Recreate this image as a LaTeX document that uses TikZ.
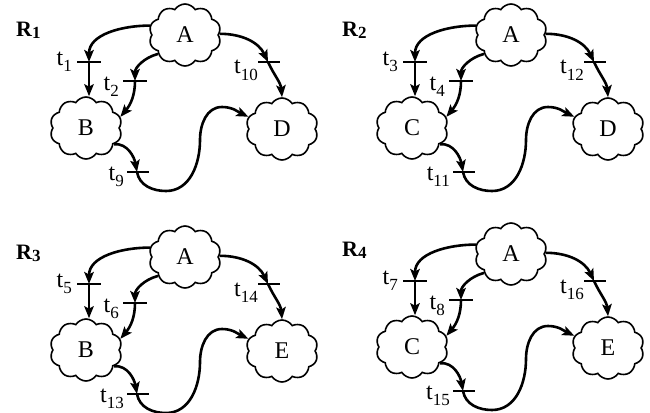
\documentclass[tikz,border=0pt]{standalone}
\usepackage{fontspec}
\setmainfont{Liberation Serif}
\usetikzlibrary{shapes.symbols,arrows.meta}

\newcommand\tsub[1]{\raisebox{-6pt}{\fontsize{17}{17}\selectfont #1}}
\newcommand\rsub[1]{\raisebox{-2pt}{\fontsize{17}{17}\selectfont\bfseries #1}}

\tikzset{
 blob/.style={cloud, draw, cloud puffs=10, cloud puff arc=115, aspect=1.25,
   line width=1.6pt, minimum width=72pt, minimum height=62pt, inner sep=0pt,
   font=\fontsize{24}{26}\selectfont},
 arc/.style={line width=2.6pt, -{Stealth[length=12pt,width=9.5pt,inset=2.5pt]}},
 bar/.style={line width=1.8pt},
 tlab/.style={anchor=base east, inner sep=0pt, font=\fontsize{24}{26}\selectfont},
 rlab/.style={anchor=base west, inner sep=0pt, font=\fontsize{22}{24}\selectfont\bfseries},
}

% #1 prefix, #2 shift, #3 R number, #4 left letter, #5 right letter,
% #6 t upper-left, #7 t inner, #8 t bottom, #9 t right
\newcommand\drawpanel[9]{%
\begin{scope}[shift={(#2)}]
 \node[rlab] (#1R) at (16,-37) {R\rsub{#3}};
 \node[blob] (#1A) at (185,-35) {A};
 \node[blob] (#1B) at (86,-128) {#4};
 \node[blob] (#1D) at (282,-129) {#5};
 \coordinate (#1ta) at (89,-62);
 \coordinate (#1tb) at (135,-81);
 \coordinate (#1tc) at (137,-172);
 \coordinate (#1td) at (268,-62);
 \draw[bar] ([xshift=-12pt]#1ta) -- ([xshift=12pt]#1ta);
 \draw[bar] ([xshift=-12pt]#1tb) -- ([xshift=12pt]#1tb);
 \draw[bar] ([xshift=-10pt]#1tc) -- ([xshift=12pt]#1tc);
 \draw[bar] ([xshift=-10pt]#1td) -- ([xshift=12pt]#1td);
 \node[tlab] (#1la) at (72,-65) {t\tsub{#6}};
 \node[tlab] (#1lb) at (119,-90) {t\tsub{#7}};
 \node[tlab] (#1lc) at (124,-180) {t\tsub{#8}};
 \node[tlab] (#1ld) at (258,-74) {t\tsub{#9}};
 \draw[arc] (#1A.165) to[out=180,in=90] (#1ta);
 \draw[arc] (#1ta) -- (#1ta |- #1B.north);
 \draw[arc] (#1A.215) to[out=195,in=90] (#1tb);
 \draw[arc] (#1tb) to[out=-90,in=50] (#1B.18);
 \draw[arc] (#1A.2) to[out=0,in=115] (#1td);
 \draw[arc] (#1td) to[out=-65,in=95] (#1D.north);
 \draw[arc] (#1B.-30) to[out=5,in=100] (#1tc);
 \draw[arc] (#1tc) to[out=-80,in=180] (166,-191) to[out=0,in=-90] (200,-140)
   to[out=90,in=180] (222,-107) to[out=0,in=155] (#1D.160);
\end{scope}}

\begin{document}
\begin{tikzpicture}[x=1pt,y=1pt]
 \useasboundingbox (0,0) rectangle (650,-412);
 \drawpanel{p}{0,0}{1}{B}{D}{1}{2}{9}{10}
 \drawpanel{q}{326,0}{2}{C}{D}{3}{4}{11}{12}
 \drawpanel{r}{0,-222}{3}{B}{E}{5}{6}{13}{14}
 \drawpanel{s}{326,-219}{4}{C}{E}{7}{8}{15}{16}
\end{tikzpicture}
\end{document}
